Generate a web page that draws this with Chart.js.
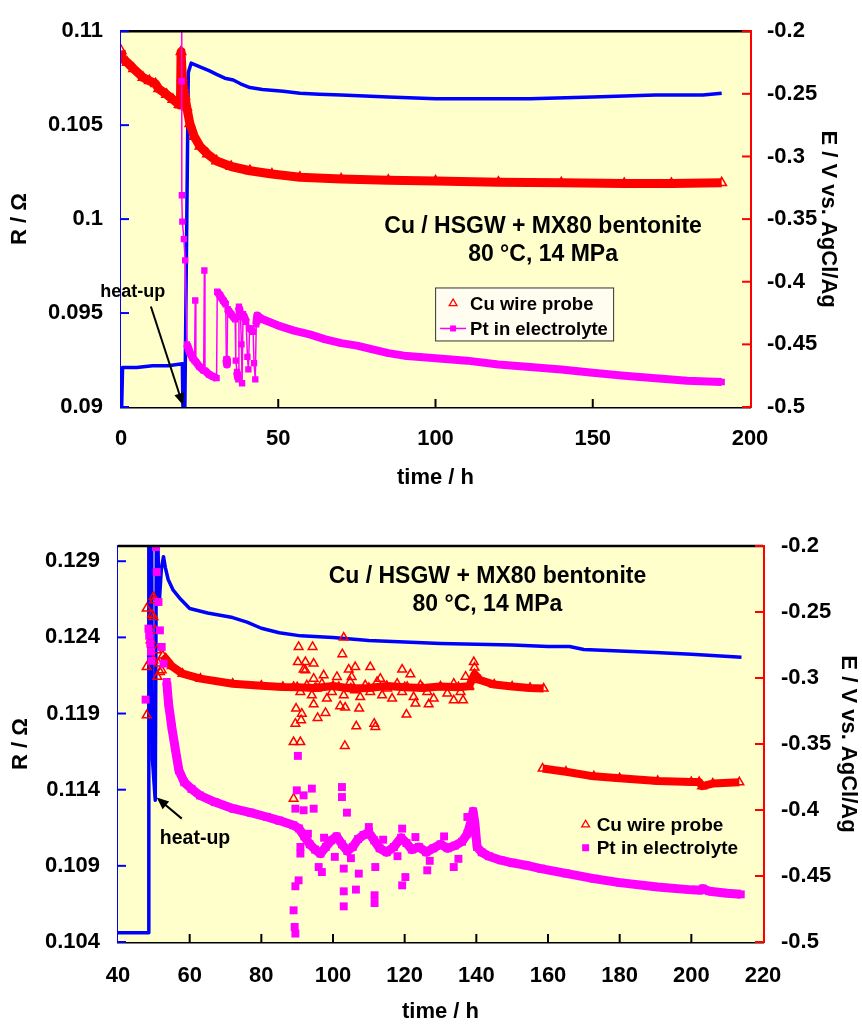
<!DOCTYPE html>
<html>
<head>
<meta charset="utf-8">
<script src="https://cdn.jsdelivr.net/npm/chart.js@4.4.1/dist/chart.umd.min.js"></script>
<style>
html, body { margin: 0; padding: 0; background: #fff; }
.wrap { position: absolute; left: 0; width: 862px; }
#top { top: 0; height: 500px; }
#bot { top: 500px; height: 526px; }
</style>
</head>
<body>
<div class="wrap" id="top"><canvas id="c1"></canvas></div>
<div class="wrap" id="bot"><canvas id="c2"></canvas></div>
<script>
// ---------- top panel: 0-200 h ----------
const topTimeTicks = [0, 50, 100, 150, 200];
const topRTicks = [0.09, 0.095, 0.1, 0.105, 0.11];
const eTicks = [-0.5, -0.45, -0.4, -0.35, -0.3, -0.25, -0.2];

const topRTime = [0.2, 0.5, 5, 10, 15, 19.5, 19.7, 20.3, 21.4, 22.3, 25.1, 28, 30.4, 33, 35.7, 38, 41, 45, 51.6, 56.9, 63, 70, 85, 100, 115, 130, 150, 170, 185, 191];
const topR = [0.0899, 0.0921, 0.0921, 0.0922, 0.0922, 0.0923, 0.0899, 0.0899, 0.1078, 0.1083, 0.1081, 0.1079, 0.1077, 0.1075, 0.1074, 0.1072, 0.1070, 0.1069, 0.1068, 0.1067, 0.10665, 0.1066, 0.1065, 0.1064, 0.1064, 0.1064, 0.1065, 0.1066, 0.1066, 0.1067];

const topCuTime = [0, 0.5, 2, 4, 7, 9, 11, 12, 14.5, 16.5, 18.5, 18.9, 19.1, 19.5, 19.8, 20.3, 20.9, 21.9, 23.3, 25.1, 27.5, 30.4, 35, 41, 48, 56.9, 70, 85, 100, 120, 140, 160, 175, 191];
const topCuE = [-0.2155, -0.222, -0.225, -0.230, -0.237, -0.2395, -0.242, -0.246, -0.2505, -0.2545, -0.2585, -0.259, -0.2165, -0.237, -0.245, -0.252, -0.2608, -0.2738, -0.284, -0.2919, -0.298, -0.3036, -0.308, -0.3114, -0.314, -0.3166, -0.318, -0.319, -0.3195, -0.3205, -0.321, -0.3215, -0.3215, -0.321];

const topPtTime = [19.3, 19.3, 19.35, 19.5, 20.0, 20.4, 21.0, 21.8, 22.8, 23.4, 23.6, 23.8, 25, 26.3, 26.5, 26.7, 28, 29.5, 30.4, 30.6, 31.5, 32.5, 33.3, 33.5, 33.7, 33.9, 35, 36.3, 36.5, 36.9, 37.3, 37.5, 38.0, 38.3, 38.5, 38.8, 39.8, 40.2, 40.5, 40.9, 42.0, 42.3, 42.7, 43.0, 43.3, 45, 47, 50, 55, 60, 65, 70, 75, 80, 85, 90, 95, 100, 110, 120, 130, 140, 150, 160, 170, 180, 191];
const topPtE = [-0.197, -0.240, -0.331, -0.352, -0.366, -0.383, -0.450, -0.456, -0.461, -0.463, -0.415, -0.464, -0.468, -0.471, -0.391, -0.471, -0.474, -0.476, -0.477, -0.408, -0.411, -0.415, -0.418, -0.462, -0.466, -0.422, -0.426, -0.430, -0.463, -0.472, -0.478, -0.420, -0.428, -0.450, -0.481, -0.426, -0.432, -0.460, -0.470, -0.437, -0.440, -0.465, -0.478, -0.434, -0.427, -0.430, -0.432, -0.435, -0.439, -0.442, -0.446, -0.449, -0.451, -0.454, -0.457, -0.459, -0.460, -0.461, -0.463, -0.466, -0.468, -0.470, -0.4727, -0.475, -0.477, -0.479, -0.480];

// ---------- bottom panel: 40-220 h ----------
const botTimeTicks = [40, 60, 80, 100, 120, 140, 160, 180, 200, 220];
const botRTicks = [0.104, 0.109, 0.114, 0.119, 0.124, 0.129];

const botRTime = [40, 48.5, 48.6, 49.4, 49.6, 50.4, 50.7, 51.1, 51.5, 52.1, 52.7, 53.2, 54, 55.4, 57.5, 60, 65, 72, 76, 80, 85, 91, 100, 110, 120, 130, 140, 150, 160, 166, 170, 180, 190, 200, 214];
const botR = [0.1046, 0.1046, 0.1305, 0.1305, 0.1160, 0.1133, 0.1305, 0.1305, 0.1262, 0.1285, 0.1293, 0.1286, 0.1278, 0.1271, 0.1265, 0.1259, 0.1256, 0.1253, 0.1250, 0.1246, 0.1243, 0.1241, 0.1240, 0.1238, 0.1237, 0.1236, 0.12355, 0.1235, 0.1234, 0.1234, 0.1232, 0.1231, 0.1230, 0.1229, 0.1227];

const botCuTime = [52.5, 53.3, 55, 58, 63, 72, 80, 86, 90, 95, 100, 105, 110, 115, 120, 125, 130, 135, 138, 139.5, 141, 145, 150, 155, 158.8, 158.85, 158.5, 165, 172.8, 180, 190.6, 200, 202.2, 203, 206, 213.4];
const botCuE = [-0.283, -0.2853, -0.291, -0.2967, -0.3005, -0.3043, -0.3058, -0.3068, -0.307, -0.3075, -0.306, -0.308, -0.3075, -0.306, -0.307, -0.3075, -0.3065, -0.307, -0.306, -0.297, -0.3015, -0.305, -0.3065, -0.3075, -0.308, null, -0.3686, -0.371, -0.3745, -0.376, -0.378, -0.3788, -0.3788, -0.382, -0.380, -0.379];

const botCuScatTime = [48.0, 50.1, 49.9, 49.1, 48.0, 48.0, 49.9, 51.3, 51.7, 50.3, 50.8, 49.9, 52.2, 49.5, 51.0,
  90.4, 94.3, 103.0, 102.6, 90.2, 92.3, 94.6, 91.8, 92.3, 97.4, 101.1, 104.4, 106.2, 110.4, 119.3, 121.6, 139.3, 139.5, 137.0, 94.6, 105.2, 113.2,
  89.0, 90.9, 92.7, 94.1, 95.5, 96.9, 98.3, 99.7, 101.6, 103.0, 104.8, 106.2, 107.6, 109.0, 110.4, 112.3, 113.7, 115.1, 116.5, 117.9, 119.3, 120.7, 122.5, 124.4, 126.3, 128.1, 130.0, 131.9, 133.7, 135.6, 137.9,
  89.7, 91.1, 89.5, 91.3, 95.7, 97.9, 94.6, 103.4, 107.3, 106.5, 111.8, 111.5, 120.5, 123.0, 126.7, 133.7, 136.3, 102.0, 89.0, 90.9, 103.3, 89.0];
const botCuScatE = [-0.2474, -0.2411, -0.2538, -0.2714, -0.2917, -0.3283, -0.2866, -0.2891, -0.2955, -0.2639, -0.2790, -0.2386, -0.2942, -0.2520, -0.2990,
  -0.2765, -0.2765, -0.2694, -0.2820, -0.2879, -0.2879, -0.2891, -0.2936, -0.2942, -0.2980, -0.2992, -0.2936, -0.2917, -0.2917, -0.2936, -0.2972, -0.2879, -0.2921, -0.2990, -0.3005, -0.2992, -0.3005,
  -0.3068, -0.3106, -0.3055, -0.3131, -0.3080, -0.3043, -0.3156, -0.3106, -0.3068, -0.3131, -0.3030, -0.3093, -0.3144, -0.3055, -0.3106, -0.3030, -0.3131, -0.3080, -0.3156, -0.3043, -0.3106, -0.3068, -0.3144, -0.3055, -0.3106, -0.3156, -0.3068, -0.3118, -0.3043, -0.3106, -0.3068,
  -0.3232, -0.3320, -0.3346, -0.3270, -0.3303, -0.3265, -0.3199, -0.3224, -0.3232, -0.3366, -0.3371, -0.3346, -0.3277, -0.3194, -0.3199, -0.3169, -0.3169, -0.3214, -0.3485, -0.3485, -0.3515, -0.3914];

const botPtTime = [53.6, 54.1, 55.0, 55.9, 57.0, 58.5, 60.5, 62.9, 67, 72.2, 77, 81.6, 85, 89,
  90.5, 92, 93.5, 95, 96.5, 98, 99.5, 101, 102.5, 104, 105.5, 107, 108.5, 110, 111.5, 113, 115, 117, 119, 120.5, 122, 124, 126, 128, 130, 132, 134, 136, 137.5, 138.5, 139.1, 139.6, 140.2,
  141.5, 143.5, 146.8, 150, 154, 158, 165, 172.8, 180, 190.6, 200, 202.7, 203.2, 205, 210, 213.8];
const botPtE = [-0.303, -0.3194, -0.3371, -0.3523, -0.370, -0.379, -0.384, -0.389, -0.394, -0.399, -0.402, -0.4053, -0.408, -0.4116,
  -0.414, -0.420, -0.426, -0.430, -0.433, -0.428, -0.423, -0.420, -0.426, -0.431, -0.428, -0.422, -0.419, -0.417, -0.423, -0.429, -0.432, -0.428, -0.421, -0.425, -0.430, -0.428, -0.432, -0.429, -0.426, -0.429, -0.427, -0.424, -0.418, -0.409, -0.401, -0.410, -0.428,
  -0.432, -0.435, -0.438, -0.440, -0.442, -0.4444, -0.448, -0.452, -0.455, -0.4583, -0.4605, -0.4608, -0.4595, -0.4615, -0.463, -0.4639];

const botPtScatTime = [50.6, 50.8, 51.3, 48.5, 49.0, 49.2, 51.7, 52.2, 52.7, 47.7, 48.7, 49.3,
  89.9, 91.8, 94.1, 102.5, 102.5, 89.5, 91.8, 94.6, 103.9, 90.2, 90.9, 90.9, 96.0, 96.9, 103.0, 107.2, 111.8, 126.3, 133.7, 90.4, 89.5, 103.0, 106.4, 111.6, 111.6, 103.0, 120.2, 119.3, 89.0, 89.3, 89.5, 110.0, 110.0, 119.3, 137.5,
  93, 97.5, 100.5, 105, 114, 118, 123, 127, 131, 135];
const botPtScatE = [-0.2008, -0.2197, -0.2424, -0.2626, -0.2740, -0.2800, -0.2639, -0.2765, -0.2891, -0.3164, -0.2680, -0.2870,
  -0.3851, -0.3889, -0.3838, -0.3826, -0.3902, -0.3990, -0.4002, -0.3990, -0.4020, -0.3590, -0.4330, -0.4280, -0.4432, -0.4470, -0.4444, -0.4482, -0.4432, -0.4457, -0.4432, -0.4533, -0.4578, -0.4616, -0.4603, -0.4646, -0.4705, -0.4730, -0.4508, -0.4571, -0.4760, -0.4886, -0.4936, -0.4129, -0.4167, -0.4141, -0.4053,
  -0.418, -0.421, -0.4355, -0.4365, -0.4225, -0.4350, -0.4205, -0.4385, -0.4200, -0.4370];

const BLUE = '#0000ff', RED = '#ff0000', PINK = '#ff00ff', PLOT_BG = '#ffffcc';
const FONT = '"Liberation Sans", Arial, Helvetica, sans-serif';

Chart.defaults.font.family = FONT;
Chart.defaults.font.weight = 'bold';
Chart.defaults.color = '#000';

function pairs(xs, ys) {
    return xs.map((x, i) => ({x: x, y: ys[i]}));
}

// yellow plot area, black top edge and inward tick marks
const framePlugin = {
    id: 'frame',
    beforeDatasetsDraw(chart) {
        const {ctx, chartArea: a} = chart;
        ctx.save();
        ctx.fillStyle = PLOT_BG;
        ctx.fillRect(a.left, a.top, a.right - a.left, a.bottom - a.top);
        ctx.restore();
    },
    afterDraw(chart) {
        const {ctx, chartArea: a, scales} = chart;
        ctx.save();
        ctx.lineWidth = 2.5;
        ctx.strokeStyle = '#000';
        ctx.beginPath();
        ctx.moveTo(a.left, a.top);
        ctx.lineTo(a.right, a.top);
        ctx.stroke();
        ctx.lineWidth = 2;
        const marks = [
            {s: scales.x, c: '#000'},
            {s: scales.y, c: BLUE},
            {s: scales.y2, c: RED}
        ];
        marks.forEach(m => {
            ctx.strokeStyle = m.c;
            m.s.ticks.forEach((t, i) => {
                const p = m.s.getPixelForValue(t.value);
                ctx.beginPath();
                if (m.s.axis === 'x') {
                    if (i === 0 || i === m.s.ticks.length - 1) return;
                    ctx.moveTo(p, a.bottom);
                    ctx.lineTo(p, a.bottom - 8);
                } else if (m.s.position === 'left') {
                    ctx.moveTo(a.left, p);
                    ctx.lineTo(a.left + 8, p);
                } else {
                    ctx.moveTo(a.right, p);
                    ctx.lineTo(a.right - 8, p);
                }
                ctx.stroke();
            });
        });
        ctx.restore();
    }
};

function triangle(ctx, x, y, r) {
    ctx.beginPath();
    ctx.moveTo(x, y - r);
    ctx.lineTo(x + r * 0.866, y + r * 0.5);
    ctx.lineTo(x - r * 0.866, y + r * 0.5);
    ctx.closePath();
    ctx.stroke();
}

// title text, heat-up arrow and legend
const notesPlugin = {
    id: 'notes',
    afterDatasetsDraw(chart, args, o) {
        const {ctx, scales} = chart;
        const px = v => scales.x.getPixelForValue(v);
        const py = v => scales.y.getPixelForValue(v);
        ctx.save();
        ctx.fillStyle = '#000';
        ctx.textBaseline = 'middle';

        ctx.font = 'bold ' + o.title.size + 'px ' + FONT;
        ctx.textAlign = 'center';
        o.title.lines.forEach((txt, i) => ctx.fillText(txt, px(o.title.x), py(o.title.y[i])));

        const h = o.heat;
        ctx.font = 'bold ' + h.size + 'px ' + FONT;
        ctx.fillText('heat-up', px(h.text[0]), py(h.text[1]));
        const x0 = px(h.tail[0]), y0 = py(h.tail[1]), x1 = px(h.tip[0]), y1 = py(h.tip[1]);
        const ang = Math.atan2(y1 - y0, x1 - x0);
        ctx.strokeStyle = '#000';
        ctx.lineWidth = 2;
        ctx.beginPath();
        ctx.moveTo(x0, y0);
        ctx.lineTo(x1 - 8 * Math.cos(ang), y1 - 8 * Math.sin(ang));
        ctx.stroke();
        ctx.beginPath();
        ctx.moveTo(x1, y1);
        ctx.lineTo(x1 - 13 * Math.cos(ang - 0.4), y1 - 13 * Math.sin(ang - 0.4));
        ctx.lineTo(x1 - 13 * Math.cos(ang + 0.4), y1 - 13 * Math.sin(ang + 0.4));
        ctx.closePath();
        ctx.fill();

        const L = o.legend;
        const lx = px(L.x), ly = py(L.y);
        if (L.box) {
            ctx.fillStyle = '#fffcf0';
            ctx.strokeStyle = '#333';
            ctx.lineWidth = 1;
            ctx.fillRect(lx + L.box[0], ly + L.box[1], L.box[2], L.box[3]);
            ctx.strokeRect(lx + L.box[0] + 0.5, ly + L.box[1] + 0.5, L.box[2], L.box[3]);
        }
        ctx.strokeStyle = RED;
        ctx.lineWidth = 1.3;
        triangle(ctx, lx, ly, 4.5);
        const y2 = ly + L.gap;
        if (L.line) {
            ctx.strokeStyle = PINK;
            ctx.lineWidth = 1.5;
            ctx.beginPath();
            ctx.moveTo(lx - 13, y2);
            ctx.lineTo(lx + 13, y2);
            ctx.stroke();
        }
        ctx.fillStyle = PINK;
        ctx.fillRect(lx - L.sq / 2, y2 - L.sq / 2, L.sq, L.sq);
        ctx.fillStyle = '#000';
        ctx.textAlign = 'left';
        ctx.font = 'bold ' + L.size + 'px ' + FONT;
        ctx.fillText('Cu wire probe', lx + L.dx, ly + 1);
        ctx.fillText('Pt in electrolyte', lx + L.dx, y2 + 1);
        ctx.restore();
    }
};

// draw gradual parts of the Pt trace as a thick band, jumps as a thin line
function ptWidth(thick) {
    return ctx => {
        const dx = Math.abs(ctx.p1.x - ctx.p0.x);
        const dy = Math.abs(ctx.p1.y - ctx.p0.y);
        return dy <= 3 * dx + 6 ? thick : 1.5;
    };
}

function makeChart(id, cfg) {
    const tickFont = {size: 22, weight: 'bold'};
    const titleFont = {size: 22, weight: 'bold'};
    const noGrid = {display: false, drawTicks: false};
    return new Chart(document.getElementById(id), {
        type: 'line',
        data: {datasets: cfg.datasets},
        options: {
            animation: false,
            responsive: true,
            maintainAspectRatio: false,
            layout: {padding: {top: cfg.top, left: 0, right: 0, bottom: 0}},
            plugins: {
                legend: {display: false},
                tooltip: {enabled: false},
                notes: cfg.notes
            },
            elements: {line: {tension: 0}},
            scales: {
                x: {
                    type: 'linear', min: cfg.xTicks[0], max: cfg.xTicks[cfg.xTicks.length - 1],
                    afterBuildTicks: s => { s.ticks = cfg.xTicks.map(v => ({value: v})); },
                    afterFit: s => { s.height = cfg.xH; },
                    grid: noGrid,
                    border: {color: '#000', width: 2.5},
                    ticks: {font: tickFont, padding: cfg.xPad, maxRotation: 0, callback: v => String(v)},
                    title: {display: true, text: 'time / h', font: titleFont, padding: {top: 0, bottom: cfg.xTitlePad}}
                },
                y: {
                    type: 'linear', position: 'left', min: cfg.rMin, max: cfg.rMax,
                    afterBuildTicks: s => { s.ticks = cfg.rTicks.map(v => ({value: v})); },
                    afterFit: s => { s.width = cfg.left; },
                    grid: noGrid,
                    border: {color: BLUE, width: 3},
                    ticks: {font: tickFont, padding: 18, callback: v => String(+v.toFixed(3))},
                    title: {display: true, text: 'R / Ω', font: titleFont, padding: {top: cfg.rTitlePad, bottom: 0}}
                },
                y2: {
                    type: 'linear', position: 'right', min: -0.5, max: -0.2,
                    afterBuildTicks: s => { s.ticks = eTicks.map(v => ({value: v})); },
                    afterFit: s => { s.width = cfg.right; },
                    grid: noGrid,
                    border: {color: RED, width: 3},
                    ticks: {font: tickFont, padding: cfg.ePad, callback: v => String(+v.toFixed(2))},
                    title: {display: true, text: 'E / V vs. AgCl/Ag', font: titleFont, padding: {top: cfg.eTitlePad, bottom: 0}}
                }
            }
        },
        plugins: [framePlugin, notesPlugin]
    });
}

const topChart = makeChart('c1', {
    top: 22, left: 121, right: 112, xH: 93, xPad: 19, xTitlePad: 9, rTitlePad: 7, eTitlePad: 21, ePad: 17,
    xTicks: topTimeTicks, rTicks: topRTicks, rMin: 0.09, rMax: 0.11,
    datasets: [
        {
            label: 'Pt in electrolyte', yAxisID: 'y2', data: pairs(topPtTime, topPtE),
            borderColor: PINK, borderWidth: 1.5, borderJoinStyle: 'round',
            segment: {borderWidth: ptWidth(8)},
            pointStyle: 'rect', pointRadius: 4.5, pointBackgroundColor: PINK, pointBorderWidth: 0
        },
        {
            label: 'Cu wire probe', yAxisID: 'y2', data: pairs(topCuTime, topCuE),
            borderColor: RED, borderWidth: 9, borderJoinStyle: 'round',
            pointStyle: 'triangle', pointRadius: 5.5, pointBorderColor: RED, pointBorderWidth: 1.5,
            pointBackgroundColor: 'rgba(255,255,255,0)'
        },
        {
            label: 'R', yAxisID: 'y', data: pairs(topRTime, topR),
            borderColor: BLUE, borderWidth: 3.5, borderJoinStyle: 'round', pointRadius: 0
        }
    ],
    notes: {
        title: {lines: ['Cu / HSGW + MX80 bentonite', '80 °C, 14 MPa'], x: 134.2, y: [0.0996, 0.0981], size: 23},
        heat: {text: [3.7, 0.0961], tail: [9.5, 0.09535], tip: [19.7, 0.0901], size: 18},
        legend: {x: 105.6, y: 0.09551, gap: 25, dx: 17, size: 18.5, sq: 6, line: true, box: [-18, -16, 178, 53]}
    }
});

const botChart = makeChart('c2', {
    top: 46, left: 118, right: 99, xH: 84, xPad: 21, xTitlePad: 1, rTitlePad: 8, eTitlePad: 1, ePad: 18,
    xTicks: botTimeTicks, rTicks: botRTicks, rMin: 0.104, rMax: 0.130,
    datasets: [
        {
            label: 'Pt scatter', yAxisID: 'y2', data: pairs(botPtScatTime, botPtScatE), showLine: false,
            pointStyle: 'rect', pointRadius: 5.6, pointBackgroundColor: PINK, pointBorderWidth: 0
        },
        {
            label: 'Pt in electrolyte', yAxisID: 'y2', data: pairs(botPtTime, botPtE),
            borderColor: PINK, borderWidth: 9, borderJoinStyle: 'round',
            pointStyle: 'rect', pointRadius: 5.6, pointBackgroundColor: PINK, pointBorderWidth: 0
        },
        {
            label: 'Cu scatter', yAxisID: 'y2', data: pairs(botCuScatTime, botCuScatE), showLine: false,
            pointStyle: 'triangle', pointRadius: 5, pointBorderColor: RED, pointBorderWidth: 1.5,
            pointBackgroundColor: 'rgba(255,255,255,0)'
        },
        {
            label: 'Cu wire probe', yAxisID: 'y2', data: pairs(botCuTime, botCuE), spanGaps: false,
            borderColor: RED, borderWidth: 8, borderJoinStyle: 'round',
            pointStyle: 'triangle', pointRadius: 5, pointBorderColor: RED, pointBorderWidth: 1.5,
            pointBackgroundColor: 'rgba(255,255,255,0)'
        },
        {
            label: 'R', yAxisID: 'y', data: pairs(botRTime, botR),
            borderColor: BLUE, borderWidth: 3.5, borderJoinStyle: 'round', pointRadius: 0
        }
    ],
    notes: {
        title: {lines: ['Cu / HSGW + MX80 bentonite', '80 °C, 14 MPa'], x: 143.1, y: [0.12796, 0.12618], size: 23},
        heat: {text: [61.5, 0.1108], tail: [57.8, 0.1121], tip: [50.8, 0.11348], size: 19.5},
        legend: {x: 170.5, y: 0.1117, gap: 23, dx: 11, size: 19, sq: 7, line: false, box: null}
    }
});
</script>
</body>
</html>
